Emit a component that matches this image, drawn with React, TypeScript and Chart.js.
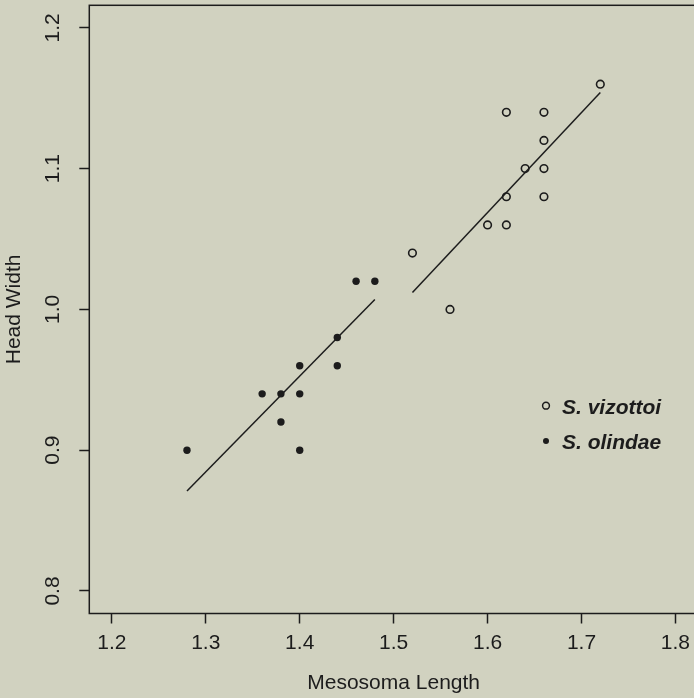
import React, { useEffect, useRef } from 'react';
import { Chart, registerables } from 'chart.js';

Chart.register(...registerables);

// ---- data ----
const vizottoiLength = [1.72, 1.62, 1.66, 1.66, 1.64, 1.66, 1.62, 1.66, 1.6, 1.62, 1.52, 1.56];
const vizottoiWidth = [1.16, 1.14, 1.14, 1.12, 1.1, 1.1, 1.08, 1.08, 1.06, 1.06, 1.04, 1.0];

const olindaeLength = [1.46, 1.48, 1.44, 1.4, 1.44, 1.36, 1.38, 1.4, 1.38, 1.28, 1.4];
const olindaeWidth = [1.02, 1.02, 0.98, 0.96, 0.96, 0.94, 0.94, 0.94, 0.92, 0.9, 0.9];

const vizottoiFitLength = [1.52, 1.72];
const vizottoiFitWidth = [1.012, 1.154];
const olindaeFitLength = [1.28, 1.48];
const olindaeFitWidth = [0.871, 1.007];

const xTicks = [1.2, 1.3, 1.4, 1.5, 1.6, 1.7, 1.8];
const yTicks = [0.8, 0.9, 1.0, 1.1, 1.2];

const seriesLabels = ['S. vizottoi', 'S. olindae'];
const xTitle = 'Mesosoma Length';
const yTitle = 'Head Width';

// ---- styles ----
const FONT = '"Liberation Sans", Arial, Helvetica, sans-serif';
const INK = '#1c1c1c';
const BG = '#d1d2c0';
const FS = 21;

function pts(xs: number[], ys: number[]) {
  return xs.map((x, i) => ({ x, y: ys[i] }));
}

export default function App() {
  const ref = useRef<HTMLCanvasElement>(null);

  useEffect(() => {
    const canvas = ref.current;
    if (!canvas) return;

    const xr = xTicks[xTicks.length - 1] - xTicks[0];
    const yr = yTicks[yTicks.length - 1] - yTicks[0];

    const framePlugin = {
      id: 'frame',
      afterDraw(chart: any) {
        const { ctx, chartArea: a } = chart;
        ctx.save();
        ctx.strokeStyle = INK;
        ctx.lineWidth = 1.5;
        ctx.strokeRect(a.left, a.top, a.right - a.left, a.bottom - a.top);
        ctx.restore();
      },
    };

    const legendPlugin = {
      id: 'rlegend',
      afterDatasetsDraw(chart: any) {
        const { ctx } = chart;
        const symX = 546;
        const rows = [
          { y: 405.7, base: 413.5, open: true },
          { y: 441, base: 448.5, open: false },
        ];
        ctx.save();
        rows.forEach((r, i) => {
          ctx.beginPath();
          if (r.open) {
            ctx.arc(symX, r.y, 3.4, 0, Math.PI * 2);
            ctx.lineWidth = 1.5;
            ctx.strokeStyle = INK;
            ctx.stroke();
          } else {
            ctx.arc(symX, r.y, 3.0, 0, Math.PI * 2);
            ctx.fillStyle = INK;
            ctx.fill();
          }
          ctx.fillStyle = INK;
          ctx.font = `italic bold ${FS}px ${FONT}`;
          ctx.textAlign = 'left';
          ctx.textBaseline = 'alphabetic';
          ctx.fillText(chart.data.datasets[i].label, 562, r.base);
        });
        ctx.restore();
      },
    };

    const chart = new Chart(canvas, {
      type: 'scatter',
      data: {
        datasets: [
          {
            label: seriesLabels[0],
            data: pts(vizottoiLength, vizottoiWidth),
            pointStyle: 'circle',
            pointRadius: 3.8,
            borderWidth: 1.6,
            borderColor: INK,
            backgroundColor: 'rgba(0,0,0,0)',
          },
          {
            label: seriesLabels[1],
            data: pts(olindaeLength, olindaeWidth),
            pointStyle: 'circle',
            pointRadius: 3.7,
            borderWidth: 0,
            borderColor: INK,
            backgroundColor: INK,
          },
          {
            label: 'fit vizottoi',
            type: 'line',
            data: pts(vizottoiFitLength, vizottoiFitWidth),
            showLine: true,
            pointRadius: 0,
            borderColor: INK,
            borderWidth: 1.5,
            fill: false,
          },
          {
            label: 'fit olindae',
            type: 'line',
            data: pts(olindaeFitLength, olindaeFitWidth),
            showLine: true,
            pointRadius: 0,
            borderColor: INK,
            borderWidth: 1.5,
            fill: false,
          },
        ] as any,
      },
      options: {
        animation: false,
        responsive: false,
        devicePixelRatio: 1,
        events: [],
        layout: { autoPadding: false, padding: { top: 5.3, left: 0, right: 0, bottom: 0 } },
        plugins: {
          legend: { display: false },
          tooltip: { enabled: false },
        },
        scales: {
          x: {
            type: 'linear',
            min: xTicks[0] - 0.04 * xr,
            max: xTicks[xTicks.length - 1] + 0.04 * xr,
            afterBuildTicks: (s: any) => {
              s.ticks = xTicks.map((v) => ({ value: v }));
            },
            afterFit: (s: any) => {
              s.height = 84.5;
              s.paddingLeft = 0;
              s.paddingRight = 0;
            },
            border: { display: false },
            grid: {
              drawOnChartArea: false,
              drawTicks: true,
              tickLength: 10,
              tickWidth: 1.5,
              tickColor: INK,
            },
            ticks: {
              autoSkip: false,
              maxRotation: 0,
              minRotation: 0,
              padding: 7,
              color: INK,
              font: { family: FONT, size: FS },
              callback: (v: any) => Number(v).toFixed(1),
            },
            title: {
              display: true,
              text: xTitle,
              color: INK,
              font: { family: FONT, size: FS },
              padding: { top: 0, bottom: 2 },
            },
          },
          y: {
            type: 'linear',
            min: yTicks[0] - 0.04 * yr,
            max: yTicks[yTicks.length - 1] + 0.04 * yr,
            afterBuildTicks: (s: any) => {
              s.ticks = yTicks.map((v) => ({ value: v }));
            },
            afterFit: (s: any) => {
              s.width = 89.3;
              s.paddingTop = 0;
              s.paddingBottom = 0;
            },
            border: { display: false },
            grid: {
              drawOnChartArea: false,
              drawTicks: true,
              tickLength: 10,
              tickWidth: 1.5,
              tickColor: INK,
            },
            ticks: {
              autoSkip: false,
              minRotation: 90,
              maxRotation: 90,
              crossAlign: 'center',
              padding: 11.7,
              color: INK,
              font: { family: FONT, size: FS },
              callback: (v: any) => Number(v).toFixed(1),
            },
            title: {
              display: true,
              text: yTitle,
              color: INK,
              font: { family: FONT, size: FS },
              padding: { top: 1.7, bottom: 0 },
            },
          },
        },
      } as any,
      plugins: [framePlugin, legendPlugin],
    });

    return () => chart.destroy();
  }, []);

  return (
    <div
      style={{
        position: 'fixed',
        left: 0,
        top: 0,
        width: 694,
        height: 698,
        overflow: 'hidden',
        background: BG,
      }}
    >
      <canvas ref={ref} width={698} height={698} style={{ display: 'block', width: 698, height: 698 }} />
    </div>
  );
}
